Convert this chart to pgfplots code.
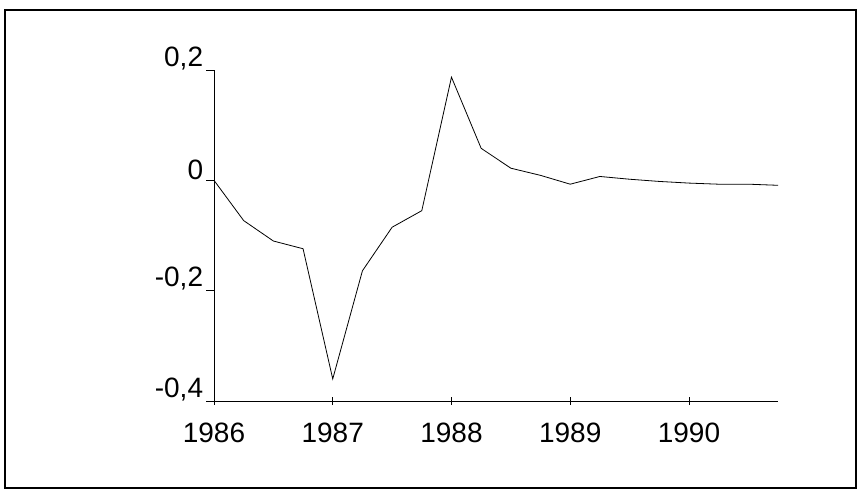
\documentclass[border=0pt]{standalone}
\usepackage{pgfplots}
\pgfplotsset{compat=1.18}
\usepackage{fontspec}
\setmainfont{Liberation Sans}

\begin{document}
\begin{tikzpicture}
  % picture frame, 860 x 492 px at 0.75pt per px
  \useasboundingbox (0,0) rectangle (645pt,369pt);
  \draw[line width=1.6pt] (3.75pt,3pt) rectangle (642pt,361.5pt);

  \begin{axis}[
      at={(160.5pt,68.25pt)},
      anchor=south west,
      scale only axis,
      width=423pt,
      height=248.25pt,
      xmin=1986, xmax=1990.75,
      ymin=-0.4, ymax=0.2,
      axis x line=bottom,
      axis y line=left,
      axis line style={-, line width=0.6pt},
      xtick={1986,1987,1988,1989,1990},
      xticklabels={1986,1987,1988,1989,1990},
      ytick={-0.4,-0.2,0,0.2},
      yticklabels={{-0,4},{-0,2},{0},{0,2}},
      x tick style={line width=0.6pt, black},
      y tick style={line width=0.6pt, black},
      xtick align=center,
      ytick align=outside,
      major tick length=6pt,
      tick label style={font=\fontsize{21}{24}\selectfont},
      xticklabel style={yshift=-10pt},
      yticklabel style={anchor=south east, inner sep=0pt, xshift=-2pt},
      clip=false,
    ]
    \addplot[black, line width=0.6pt] coordinates {
      (1986.00, 0.000)
      (1986.25,-0.073)
      (1986.50,-0.110)
      (1986.75,-0.124)
      (1987.00,-0.360)
      (1987.25,-0.164)
      (1987.50,-0.085)
      (1987.75,-0.055)
      (1988.00, 0.187)
      (1988.25, 0.058)
      (1988.50, 0.022)
      (1988.75, 0.009)
      (1989.00,-0.007)
      (1989.25, 0.007)
      (1989.50, 0.002)
      (1989.75,-0.002)
      (1990.00,-0.005)
      (1990.25,-0.007)
      (1990.50,-0.007)
      (1990.75,-0.009)
    };
  \end{axis}
\end{tikzpicture}
\end{document}
